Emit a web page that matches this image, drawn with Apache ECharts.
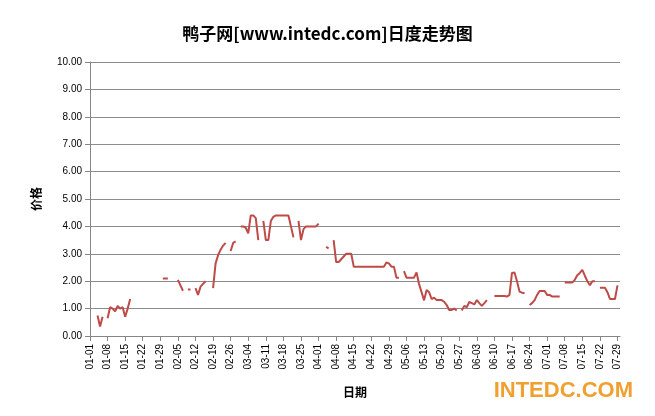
<!DOCTYPE html>
<html><head><meta charset="utf-8">
<script src="https://cdn.jsdelivr.net/npm/echarts@6/dist/echarts.min.js"></script>
<style>html,body{margin:0;padding:0;background:#fff}#c{width:655px;height:416px}</style>
</head><body><div id="c"></div>
<script>
const startMonth = 1, startDay = 1, dayCount = 212;
const yTicks = [0,1,2,3,4,5,6,7,8,9,10];
const prices = [
 null,null,null,0.75,0.35,0.7,null,0.65,1.05,1.0,
 0.9,1.1,1.0,1.05,0.7,1.0,1.35,null,null,null,
 null,null,null,null,null,null,null,null,null,2.1,
 2.1,2.1,null,null,null,2.05,1.85,1.65,null,1.7,
 1.7,null,1.75,1.5,1.8,1.9,2.0,null,null,1.75,
 2.65,2.95,3.15,3.3,3.4,null,3.1,3.4,3.45,null,
 4.0,4.0,3.95,3.75,4.4,4.4,4.3,3.5,null,4.2,
 3.5,3.5,4.2,4.35,4.4,4.4,4.4,4.4,4.4,4.4,
 4.0,3.6,null,4.2,3.5,3.9,4.0,4.0,4.0,4.0,
 4.0,4.1,null,null,3.25,3.2,null,3.5,2.7,2.7,
 2.8,2.9,3.0,3.0,3.0,2.53,2.53,2.53,2.53,2.53,
 2.53,2.53,2.53,2.53,2.53,2.53,2.53,2.53,2.68,2.65,
 2.53,2.53,2.13,2.13,null,2.37,2.13,2.13,2.13,2.13,
 2.32,1.9,1.6,1.3,1.68,1.6,1.35,1.4,1.31,1.31,
 1.31,1.25,1.13,0.95,0.95,1.0,0.93,null,0.93,1.1,
 1.05,1.24,1.2,1.15,1.31,1.2,1.1,1.2,1.31,null,
 null,1.46,1.46,1.46,1.46,1.46,1.44,1.5,2.3,2.32,
 2.0,1.62,1.58,1.56,null,1.13,1.2,1.31,1.5,1.64,
 1.64,1.64,1.5,1.5,1.44,1.44,1.44,1.44,null,1.95,
 1.95,1.95,1.95,2.05,2.22,2.3,2.41,2.2,2.0,1.85,
 2.0,2.0,null,1.76,1.76,1.76,1.6,1.35,1.35,1.35,
 1.85,null
];
const dates = [];
for (let i = 0; i < dayCount; i++) {
  const d = new Date(Date.UTC(2016, startMonth - 1, startDay + i));
  dates.push(String(d.getUTCMonth()+1).padStart(2,'0') + '-' + String(d.getUTCDate()).padStart(2,'0'));
}
const chart = echarts.init(document.getElementById('c'));
chart.setOption({
  animation:false,
  title:{text:'鸭子网[www.intedc.com]日度走势图',left:'center',top:20,
    textStyle:{fontSize:17,fontWeight:'bold',color:'#000',fontFamily:'Noto Sans CJK SC'}},
  grid:{left:90,right:35,top:62,bottom:80,containLabel:false},
  xAxis:{type:'category',data:dates,boundaryGap:false,
    name:'日期',nameLocation:'middle',nameGap:50,
    nameTextStyle:{fontSize:12,fontWeight:'bold',color:'#000',fontFamily:'Noto Sans CJK SC'},
    axisLine:{lineStyle:{color:'#868686'}},
    axisTick:{interval:6,lineStyle:{color:'#868686'}},
    axisLabel:{interval:6,rotate:90,fontSize:10,color:'#000'}},
  yAxis:{type:'value',min:yTicks[0],max:yTicks[yTicks.length-1],interval:1,
    name:'价格',nameLocation:'middle',nameGap:48,nameRotate:90,
    nameTextStyle:{fontSize:12,fontWeight:'bold',color:'#000',fontFamily:'Noto Sans CJK SC'},
    axisLine:{show:true,lineStyle:{color:'#868686'}},
    axisTick:{show:true,lineStyle:{color:'#868686'}},
    splitLine:{lineStyle:{color:'#8c8c8c'}},
    axisLabel:{fontSize:10,color:'#000',formatter:v=>v.toFixed(2)}},
  graphic:[{type:'text',right:22,bottom:14,style:{text:'INTEDC.COM',fontSize:22,fontWeight:'bold',
    fill:'#f0a030',fontFamily:'Liberation Sans'}}],
  series:[{type:'line',data:prices,connectNulls:false,showSymbol:false,
    lineStyle:{color:'#be4b48',width:2},itemStyle:{color:'#be4b48'}}]
});
</script></body></html>
